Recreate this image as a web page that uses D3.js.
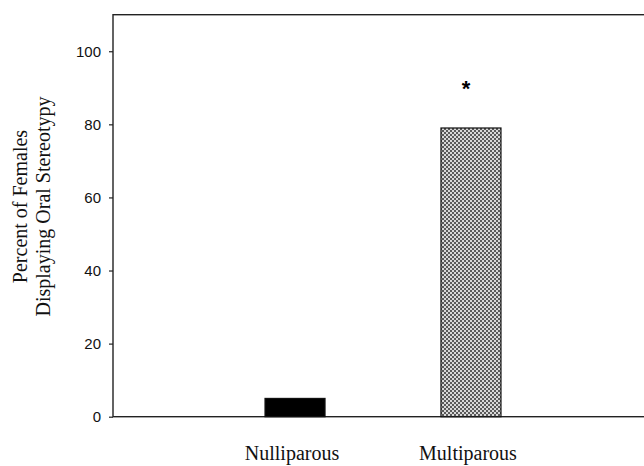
<!DOCTYPE html>
<meta charset="utf-8">
<style>
  body { margin: 0; background: #fff; }
  svg { display: block; }
  .tick text { font-family: Arial, "Liberation Sans", sans-serif; font-size: 15px; fill: #111; }
  .cat { font-family: "Times New Roman", "Liberation Serif", serif; font-size: 20px; fill: #111; }
  .ytitle { font-family: "Times New Roman", "Liberation Serif", serif; font-size: 20px; fill: #111; }
</style>
<body>
<script src="https://cdn.jsdelivr.net/npm/d3@7"></script>
<script>
  'use strict';

  const categories = ["Nulliparous", "Multiparous"],
        values = [5, 79],
        significant = [false, true],
        yTicks = [0, 20, 40, 60, 80, 100],
        yTitle = ["Percent of Females", "Displaying Oral Stereotypy"];

  const W = 644, H = 466,
        plotLeft = 113, plotTop = 14.7, plotBottom = 416.7, plotRight = 653;

  const svg = d3.select("body").append("svg")
        .attr("width", W)
        .attr("height", H);

  // dithered grey fill like the scanned figure
  const pat = svg.append("defs").append("pattern")
        .attr("id", "dither")
        .attr("patternUnits", "userSpaceOnUse")
        .attr("width", 4).attr("height", 4);
  pat.append("rect").attr("width", 4).attr("height", 4).attr("fill", "#d8d8d8");
  pat.append("rect").attr("width", 2).attr("height", 2).attr("fill", "#5a5a5a");
  pat.append("rect").attr("x", 2).attr("y", 2).attr("width", 2).attr("height", 2).attr("fill", "#5a5a5a");

  const x = d3.scaleBand()
        .domain(categories)
        .range([plotLeft, plotRight])
        .paddingInner(0.659)
        .paddingOuter(0.864);

  const y = d3.scaleLinear()
        .domain([0, 110])
        .range([plotBottom, plotTop]);

  // frame
  svg.append("rect")
    .attr("x", plotLeft).attr("y", plotTop)
    .attr("width", plotRight - plotLeft).attr("height", plotBottom - plotTop)
    .attr("fill", "none")
    .attr("stroke", "#222")
    .attr("stroke-width", 1.4);

  // bars
  svg.selectAll(".bar")
    .data(categories)
    .enter().append("rect")
    .attr("class", "bar")
    .attr("x", (d) => x(d))
    .attr("y", (d, i) => y(values[i]))
    .attr("width", x.bandwidth())
    .attr("height", (d, i) => y(0) - y(values[i]))
    .attr("fill", (d, i) => i === 0 ? "#000" : "url(#dither)")
    .attr("stroke", "#111")
    .attr("stroke-width", 1.2);

  // significance marks
  svg.selectAll(".star")
    .data(categories.filter((d, i) => significant[i]))
    .enter().append("text")
    .attr("class", "star")
    .attr("x", (d) => x(d) + x.bandwidth() / 2 - 5)
    .attr("y", (d) => y(values[categories.indexOf(d)]) - 32)
    .attr("text-anchor", "middle")
    .style("font-family", "Arial, sans-serif")
    .style("font-weight", "bold")
    .style("font-size", "22px")
    .text("*");

  // y axis
  const yAxis = svg.append("g")
    .attr("transform", `translate(${plotLeft},0)`)
    .call(d3.axisLeft(y).tickValues(yTicks).tickSize(4).tickPadding(8));
  yAxis.select(".domain").remove();
  yAxis.selectAll(".tick line").attr("stroke", "#222").attr("stroke-width", 1.2);

  // category labels
  svg.selectAll(".cat")
    .data(categories)
    .enter().append("text")
    .attr("class", "cat")
    .attr("x", (d) => x(d) + x.bandwidth() / 2 - 3)
    .attr("y", 460)
    .attr("text-anchor", "middle")
    .text((d) => d);

  // y title, two lines
  svg.append("text")
    .attr("class", "ytitle")
    .attr("transform", "translate(26.5,206.5) rotate(-90)")
    .attr("text-anchor", "middle")
    .selectAll("tspan")
    .data(yTitle)
    .enter().append("tspan")
    .attr("x", 0)
    .attr("dy", (d, i) => i === 0 ? 0 : 23.5)
    .text((d) => d);
</script>
